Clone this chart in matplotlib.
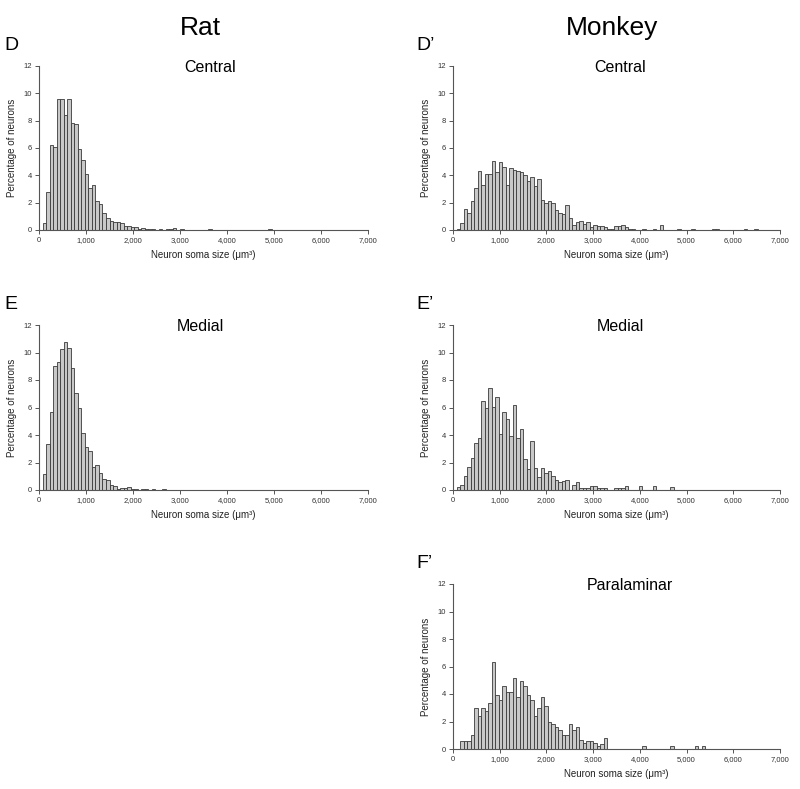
import matplotlib
matplotlib.use("Agg")
import matplotlib.pyplot as plt
import numpy as np
from matplotlib.ticker import FuncFormatter

plt.rcParams["font.family"] = ["Liberation Sans", "DejaVu Sans"]

# bin width of the histograms (um^3), bins start at 0
BIN = 75

# percentage of neurons per bin
rat_central = [
    0, 0.5, 2.8, 6.2, 6.05, 9.55, 9.6, 8.4, 9.6, 7.8,
    7.75, 5.9, 5.1, 4.1, 3.1, 3.3, 2.1, 1.9, 1.25, 0.9,
    0.65, 0.6, 0.6, 0.5, 0.3, 0.3, 0.25, 0.2, 0.1, 0.15,
    0.05, 0.05, 0.05, 0, 0.05, 0, 0.1, 0.05, 0.15, 0,
    0.05, 0, 0, 0, 0, 0, 0, 0, 0.05, 0,
    0, 0, 0, 0, 0, 0, 0, 0, 0, 0,
    0, 0, 0, 0, 0, 0.1,
]
rat_medial = [
    0, 1.2, 3.35, 5.65, 9.05, 9.3, 10.25, 10.75, 10.3, 8.9,
    7.05, 5.95, 4.15, 3.1, 2.85, 1.7, 1.8, 1.25, 0.8, 0.7,
    0.35, 0.3, 0.05, 0.15, 0.15, 0.2, 0.05, 0.05, 0, 0.05,
    0.05, 0, 0.05, 0, 0, 0.05,
]
monkey_central = [
    0, 0.1, 0.5, 1.55, 1.25, 2.15, 3.1, 4.35, 3.3, 4.1,
    4.1, 5.05, 4.25, 4.95, 4.6, 3.3, 4.55, 4.4, 4.3, 4.25,
    4.0, 3.6, 3.85, 3.2, 3.7, 2.2, 1.95, 2.15, 2.0, 1.5,
    1.25, 1.2, 1.85, 0.9, 0.35, 0.55, 0.65, 0.45, 0.6, 0.25,
    0.4, 0.3, 0.3, 0.25, 0.1, 0.05, 0.3, 0.3, 0.35, 0.2,
    0.05, 0.1, 0, 0, 0.05, 0, 0, 0.05, 0, 0.35,
    0, 0, 0, 0, 0.05, 0, 0, 0, 0.1, 0,
    0, 0, 0, 0, 0.1, 0.1, 0, 0, 0, 0,
    0, 0, 0, 0.1, 0, 0, 0.1,
]
monkey_medial = [
    0, 0.2, 0.35, 1.05, 1.65, 2.35, 3.4, 3.75, 6.5, 5.95,
    7.4, 6.05, 6.8, 4.05, 5.65, 5.2, 3.9, 6.2, 3.75, 4.45,
    2.25, 1.5, 3.55, 1.6, 0.95, 1.6, 1.25, 1.35, 1.0, 0.7,
    0.6, 0.65, 0.75, 0, 0.35, 0.6, 0.15, 0.15, 0.15, 0.3,
    0.3, 0.15, 0.15, 0.15, 0, 0, 0.15, 0.15, 0.15, 0.3,
    0, 0, 0, 0.3, 0, 0, 0, 0.3, 0, 0,
    0, 0, 0.2,
]
monkey_paralaminar = [
    0, 0, 0.6, 0.6, 0.6, 1.0, 2.95, 2.4, 2.95, 2.75,
    3.35, 6.3, 3.95, 3.55, 4.55, 4.15, 4.15, 5.15, 3.75, 4.95,
    4.55, 3.95, 3.6, 2.4, 2.95, 3.75, 3.15, 2.0, 1.8, 1.6,
    1.4, 1.0, 1.0, 1.8, 1.4, 1.6, 0.65, 0.45, 0.6, 0.6,
    0.45, 0.2, 0.4, 0.8, 0, 0, 0, 0, 0, 0,
    0, 0, 0, 0, 0.2, 0, 0, 0, 0, 0,
    0, 0, 0.2, 0, 0, 0, 0, 0, 0, 0.2,
    0, 0.2,
]

x_ticks = [0, 1000, 2000, 3000, 4000, 5000, 6000, 7000]
y_ticks = [0, 2, 4, 6, 8, 10, 12]

W, H = 800, 789
fig = plt.figure(figsize=(W / 100, H / 100), dpi=100)
fig.patch.set_facecolor("white")


def ftext(x, y, s, **kw):
    fig.text(x / W, 1 - y / H, s, **kw)


def panel(vals, left, top, right, bottom, name, letter, letter_x, title_x):
    ax = fig.add_axes([left / W, 1 - bottom / H, (right - left) / W, (bottom - top) / H])
    vals = np.asarray(vals, dtype=float)
    edges = np.arange(len(vals)) * BIN
    keep = vals > 0
    ax.bar(edges[keep], vals[keep], width=BIN, align="edge",
           color="#c8c8c8", edgecolor="#3a3a3a", linewidth=0.6)
    ax.set_xlim(0, 7000)
    ax.set_ylim(0, 12)
    ax.set_xticks(x_ticks)
    ax.set_yticks(y_ticks)
    ax.xaxis.set_major_formatter(FuncFormatter(lambda v, p: f"{int(v):,}"))
    for s in ["top", "right"]:
        ax.spines[s].set_visible(False)
    for s in ["left", "bottom"]:
        ax.spines[s].set_color("#555555")
        ax.spines[s].set_linewidth(0.8)
    ax.tick_params(length=3, width=0.7, colors="#555555", labelsize=5.5,
                   labelcolor="#333333", pad=2)
    mid_y = (top + bottom) / 2
    ftext(left - 27, mid_y, "Percentage of neurons", rotation=90,
          ha="center", va="center", fontsize=7, color="#222222")
    ftext((left + right) / 2, bottom + 25, "Neuron soma size (\u03bcm\u00b3)",
          ha="center", va="center", fontsize=7, color="#222222")
    ftext(title_x, top + 1, name, ha="center", va="center", fontsize=11.5)
    ftext(letter_x, top - 20, letter, ha="left", va="center", fontsize=14)
    return ax


panel(rat_central, 39, 66, 368, 230, "Central", "D", 4, 210)
panel(rat_medial, 39, 325, 368, 490, "Medial", "E", 4, 200)
panel(monkey_central, 453, 66, 780, 230, "Central", "D\u2019", 416, 620)
panel(monkey_medial, 453, 325, 780, 490, "Medial", "E\u2019", 416, 620)
panel(monkey_paralaminar, 453, 584, 780, 749, "Paralaminar", "F\u2019", 416, 630)

ftext(200, 28, "Rat", ha="center", va="center", fontsize=19)
ftext(612, 28, "Monkey", ha="center", va="center", fontsize=19)

fig.savefig("out.png", dpi=100, facecolor="white")
